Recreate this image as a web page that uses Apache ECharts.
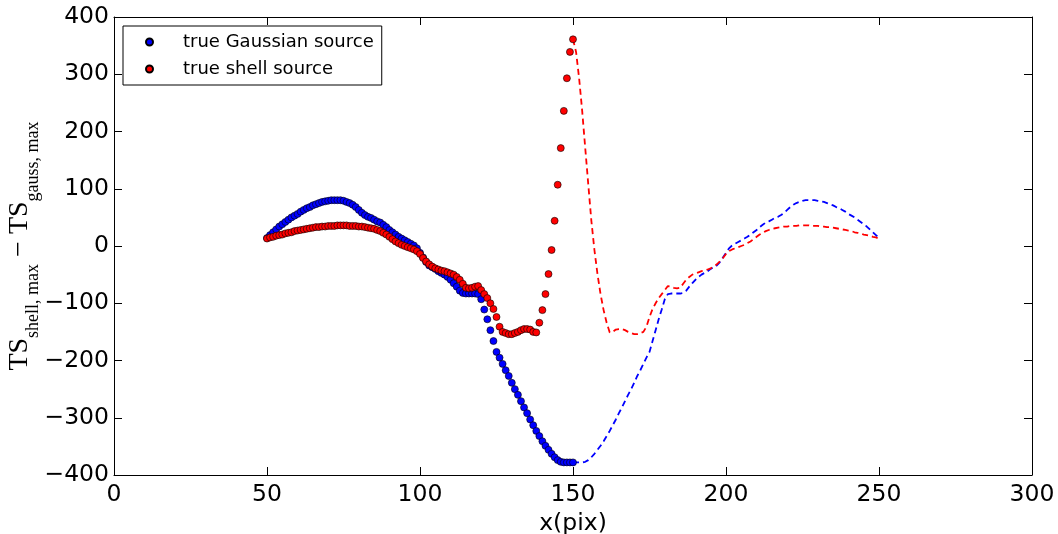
<!DOCTYPE html>
<html><head><meta charset="utf-8">
<script src="https://cdn.jsdelivr.net/npm/echarts@6/dist/echarts.min.js"></script>
<style>html,body{margin:0;padding:0;background:#fff}#c{width:1058px;height:534px}</style>
</head><body><div id="c"></div>
<script>
// x of the first dot and step between dots (pixel units)
const dotStartX = 50;
const dashStartX = 150;
const stepX = 1;

// TS difference for the true Gaussian source, x = 50 .. 150
const gaussDots = [
  14,19,24,29,34,38,42,46,50,53,
  56,60,63,66,68,71,73,75,77,78,
  79,80,80,80,80,79,77,75,72,68,
  63,58,54,51,49,46,43,41,37,33,
  28,24,20,16,13,10,7,4,1,-4,
  -12,-20,-28,-34,-37,-40,-44,-47,-50,-54,
  -59,-65,-71,-78,-82,-83,-83,-83,-83,-84,
  -93,-111,-128,-147,-166,-185,-195,-206,-217,-227,
  -239,-250,-260,-271,-282,-292,-303,-313,-323,-332,
  -341,-349,-356,-363,-369,-374,-377,-378,-378,-378,
  -378
];
// TS difference for the true shell source, x = 50 .. 150
const shellDots = [
  13,15,16,18,19,20,22,23,24,26,
  27,28,29,30,31,32,33,33,34,34,
  35,35,35,36,36,36,36,35,35,35,
  34,34,33,32,31,30,28,26,23,20,
  16,12,8,5,2,0,-2,-4,-6,-9,
  -14,-21,-27,-32,-36,-39,-41,-43,-44,-46,
  -48,-50,-54,-59,-66,-73,-74,-73,-71,-70,
  -77,-84,-91,-100,-110,-124,-141,-150,-152,-154,
  -154,-152,-150,-147,-145,-145,-146,-150,-151,-134,
  -112,-84,-49,-7,44,107,171,236,293,339,
  361
];
// dashed curves, x = 150 .. 250
const gaussDash = [
  -378,-378,-378,-378,-377,-374,-369,-363,-356,-349,
  -341,-332,-323,-313,-303,-292,-282,-271,-260,-250,
  -239,-227,-217,-206,-195,-185,-166,-147,-128,-111,
  -93,-84,-83,-83,-83,-83,-82,-78,-71,-65,
  -59,-54,-50,-47,-44,-40,-37,-34,-28,-20,
  -12,-4,1,4,7,10,13,16,20,24,
  28,33,37,41,43,46,49,51,54,58,
  63,68,72,75,77,79,80,80,80,80,
  79,78,77,75,73,71,68,66,63,60,
  56,53,50,46,42,38,34,29,24,19,
  14
];
const shellDash = [
  361,339,293,236,171,107,44,-7,-49,-84,
  -112,-134,-151,-150,-146,-145,-145,-147,-150,-152,
  -154,-154,-152,-150,-141,-124,-110,-100,-91,-84,
  -77,-70,-71,-73,-74,-73,-66,-59,-54,-50,
  -48,-46,-44,-43,-41,-39,-36,-32,-27,-21,
  -14,-9,-6,-4,-2,0,2,5,8,12,
  16,20,23,26,28,30,31,32,33,34,
  34,35,35,35,36,36,36,36,35,35,
  35,34,34,33,33,32,31,30,29,28,
  27,26,24,23,22,20,19,18,16,15,
  13
];
const seriesNames = ['true Gaussian source', 'true shell source'];
const xAxisName = 'x(pix)';
const yAxisName = '{ts|TS}{sub|shell, max}{ts| \u2212 TS}{sub|gauss, max}';

function pairs(arr, x0) { return arr.map((v, i) => [x0 + i * stepX, v]); }

const tickFont = { fontFamily: 'DejaVu Sans', fontSize: 23.5, color: '#000' };
const lineSt = { show: true, onZero: false, lineStyle: { color: '#000', width: 1 } };
const tickSt = { show: true, inside: true, length: 8, lineStyle: { color: '#000', width: 1 } };
const fmt = v => String(v).replace('-', '\u2212');

const chart = echarts.init(document.getElementById('c'), null, { renderer: 'canvas' });
chart.setOption({
  animation: false,
  backgroundColor: '#fff',
  grid: { left: 114, right: 26, top: 17, bottom: 59, outerBoundsMode: 'none' },
  legend: {
    data: seriesNames,
    orient: 'vertical',
    left: 123, top: 26,
    padding: [7, 8, 7, 22],
    itemGap: 9,
    itemWidth: 7, itemHeight: 7,
    icon: 'circle',
    borderColor: '#000', borderWidth: 1, borderRadius: 0,
    backgroundColor: '#fff',
    textStyle: { fontFamily: 'DejaVu Sans', fontSize: 18, color: '#000', padding: [0, 0, 0, 25] }
  },
  graphic: [{
    type: 'text', x: 24, y: 246, rotation: Math.PI / 2, silent: true,
    style: {
      text: yAxisName, align: 'center', verticalAlign: 'middle',
      rich: {
        ts: { fontFamily: 'Liberation Serif', fontSize: 28, fill: '#000', lineHeight: 22, verticalAlign: 'top' },
        sub: { fontFamily: 'Liberation Serif', fontSize: 18, fill: '#000', lineHeight: 36, verticalAlign: 'bottom' }
      }
    }
  }],
  xAxis: [
    { type: 'value', min: 0, max: 300, interval: 50, position: 'bottom',
      axisLine: lineSt, axisTick: tickSt, splitLine: { show: false },
      axisLabel: Object.assign({ margin: 8, formatter: fmt }, tickFont),
      name: xAxisName, nameLocation: 'middle', nameGap: 34,
      nameTextStyle: { fontFamily: 'DejaVu Sans', fontSize: 23.5, color: '#000' } },
    { type: 'value', min: 0, max: 300, interval: 50, position: 'top',
      axisLine: lineSt, axisTick: tickSt, splitLine: { show: false },
      axisLabel: { show: false } }
  ],
  yAxis: [
    { type: 'value', min: -400, max: 400, interval: 100, position: 'left',
      axisLine: lineSt, axisTick: tickSt, splitLine: { show: false },
      axisLabel: Object.assign({ margin: 5, formatter: fmt }, tickFont) },
    { type: 'value', min: -400, max: 400, interval: 100, position: 'right',
      axisLine: lineSt, axisTick: tickSt, splitLine: { show: false },
      axisLabel: { show: false } }
  ],
  series: [
    { name: 'gaussDashed', type: 'line', data: pairs(gaussDash, dashStartX), showSymbol: false, symbol: 'none',
      lineStyle: { color: '#0000ff', width: 1.8, type: [6, 4] }, z: 2 },
    { name: 'shellDashed', type: 'line', data: pairs(shellDash, dashStartX), showSymbol: false, symbol: 'none',
      lineStyle: { color: '#ff0000', width: 1.8, type: [6, 4] }, z: 2 },
    { name: seriesNames[0], type: 'scatter', data: pairs(gaussDots, dotStartX), symbol: 'circle', symbolSize: 7,
      itemStyle: { color: '#0000ff', borderColor: '#000', borderWidth: 0.6, opacity: 1 }, z: 3 },
    { name: seriesNames[1], type: 'scatter', data: pairs(shellDots, dotStartX), symbol: 'circle', symbolSize: 7,
      itemStyle: { color: '#ff0000', borderColor: '#000', borderWidth: 0.6, opacity: 1 }, z: 4 }
  ]
});
</script>
</body></html>
